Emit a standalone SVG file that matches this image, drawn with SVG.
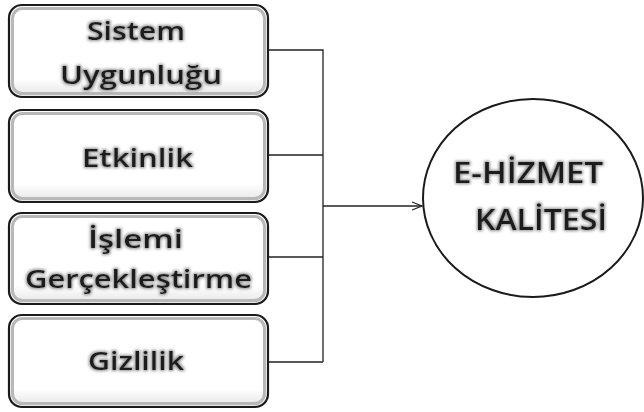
<svg xmlns="http://www.w3.org/2000/svg" width="644" height="412" viewBox="0 0 644 412">
<style>
.box{fill:url(#bfill);stroke:#1a1a1a;stroke-width:2.2}
.inner{fill:none;stroke:#b8b8b8;stroke-width:3}
.lbl{font-family:"Open Sans","Liberation Sans",sans-serif;font-weight:600;font-size:25px;fill:#1a1a1a;text-anchor:middle;filter:url(#glow)}
.big{font-size:28px}
.conn{fill:none;stroke:#222;stroke-width:1.3}
</style>
<defs>
<linearGradient id="bfill" x1="0" y1="0" x2="0" y2="1">
<stop offset="0" stop-color="#ffffff"/>
<stop offset="0.8" stop-color="#ffffff"/>
<stop offset="1" stop-color="#e4e4e4"/>
</linearGradient>
<filter id="glow" x="-10%" y="-30%" width="120%" height="160%">
<feMorphology in="SourceAlpha" operator="dilate" radius="1.3" result="d"/>
<feGaussianBlur in="d" stdDeviation="1.4" result="b"/>
<feFlood flood-color="#8f8f8f"/>
<feComposite in2="b" operator="in" result="g"/>
<feMerge><feMergeNode in="g"/><feMergeNode in="SourceGraphic"/></feMerge>
</filter>
<marker id="arr" markerWidth="12" markerHeight="10" refX="11" refY="5" orient="auto" markerUnits="userSpaceOnUse">
<path d="M1,1 L11,5 L1,9" fill="none" stroke="#222" stroke-width="1.3"/>
</marker>
</defs>
<g id="connectors">
<path class="conn" d="M268,50 H323 V362 M268,155 H323 M268,257 H323 M268,362 H323"/>
<path class="conn" d="M323,206 H422" marker-end="url(#arr)"/>
</g>
<g id="sistem">
<rect class="box" x="9" y="5" width="259" height="92" rx="13"/>
<rect class="inner" x="12.5" y="8.5" width="252" height="85" rx="10"/>
<text class="lbl" x="136" y="40" textLength="98" lengthAdjust="spacingAndGlyphs">Sistem</text>
<text class="lbl" x="141" y="84" textLength="162" lengthAdjust="spacingAndGlyphs">Uygunluğu</text>
</g>
<g id="etkinlik">
<rect class="box" x="9" y="110" width="259" height="92" rx="13"/>
<rect class="inner" x="12.5" y="113.5" width="252" height="85" rx="10"/>
<text class="lbl" x="137.5" y="167" textLength="111" lengthAdjust="spacingAndGlyphs">Etkinlik</text>
</g>
<g id="islemi">
<rect class="box" x="9" y="213" width="259" height="91" rx="13"/>
<rect class="inner" x="12.5" y="216.5" width="252" height="84" rx="10"/>
<text class="lbl" x="135.5" y="248" textLength="95" lengthAdjust="spacingAndGlyphs">İşlemi</text>
<text class="lbl" x="138.5" y="288" textLength="227" lengthAdjust="spacingAndGlyphs">Gerçekleştirme</text>
</g>
<g id="gizlilik">
<rect class="box" x="9" y="315" width="259" height="92" rx="13"/>
<rect class="inner" x="12.5" y="318.5" width="252" height="85" rx="10"/>
<text class="lbl" x="136" y="370" textLength="96" lengthAdjust="spacingAndGlyphs">Gizlilik</text>
</g>
<g id="ehizmet">
<ellipse cx="533" cy="198" rx="110" ry="99" fill="#fff" stroke="#1a1a1a" stroke-width="2"/>
<text class="lbl big" x="528" y="183" textLength="150" lengthAdjust="spacingAndGlyphs">E-HİZMET</text>
<text class="lbl big" x="541" y="230" textLength="132" lengthAdjust="spacingAndGlyphs">KALİTESİ</text>
</g>
</svg>
